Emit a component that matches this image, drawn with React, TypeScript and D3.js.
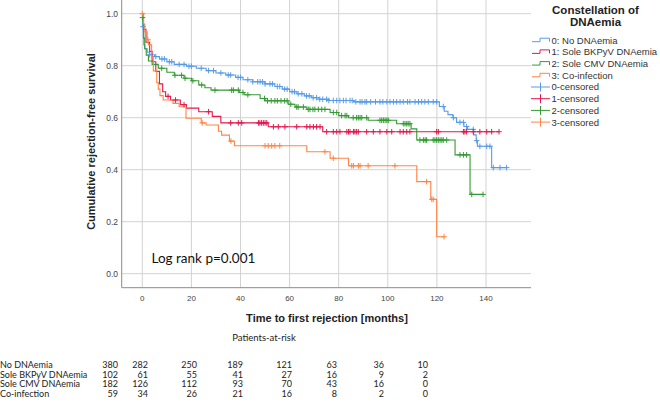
import React from 'react';
import * as d3 from 'd3';

// ---------- data ----------
const xTicks = [0, 20, 40, 60, 80, 100, 120, 140];
const yTicks = [0, 0.2, 0.4, 0.6, 0.8, 1.0];

const noTimes = [0, 0.2, 0.4, 0.6, 1, 2, 3, 5, 7, 10, 13, 18, 22, 26, 30, 34, 38, 41, 45, 50, 54, 57, 60, 63, 66, 69, 72, 76, 86, 121, 123, 124.5, 126.5, 128, 131, 132.5, 135, 136, 136.5, 142.3];
const noSurv = [1.0, 0.95, 0.91, 0.88, 0.865, 0.852, 0.842, 0.835, 0.826, 0.815, 0.805, 0.798, 0.79, 0.781, 0.772, 0.764, 0.755, 0.746, 0.738, 0.73, 0.72, 0.71, 0.7, 0.692, 0.684, 0.677, 0.671, 0.666, 0.661, 0.643, 0.625, 0.612, 0.6, 0.582, 0.566, 0.555, 0.534, 0.512, 0.49, 0.408];
const noEnd = 148.5;
const noCens = [0.3, 3, 5.5, 8, 9, 11, 12, 15, 17, 19, 20, 24, 27, 29, 32, 35, 36, 39, 40, 43, 45, 47, 48, 49, 50, 52, 53, 55, 56, 58, 59, 61, 62, 63.5, 65, 66.9, 68, 69.6, 71, 72.3, 73.5, 75.1, 76, 77.8, 79.2, 80.5, 81.9, 83, 84.6, 85.5, 87, 88.7, 89.5, 90.7, 91.4, 93, 95, 96.8, 98, 99.6, 100.9, 102.3, 103.6, 105, 106.3, 108, 109, 111.1, 112.5, 113.8, 115.1, 116.5, 118.5, 119.9, 122.6, 126.7, 129.4, 130.8, 132.1, 134.8, 136.2, 137.5, 140.3, 141.6, 143, 145.7, 148.4];

const bkTimes = [0, 0.5, 1.5, 3, 4, 5.5, 7, 8.3, 9.5, 11.5, 15.5, 18, 23, 28.5, 32, 51.3, 73.5];
const bkSurv = [1.0, 0.94, 0.89, 0.855, 0.815, 0.778, 0.73, 0.7, 0.682, 0.668, 0.65, 0.637, 0.623, 0.605, 0.58, 0.565, 0.546];
const bkEnd = 145.3;
const bkCens = [10.5, 13.5, 17, 27, 36, 39.1, 40.5, 47.3, 47.9, 48.6, 49.3, 50, 50.7, 53.4, 55.4, 58.1, 62.9, 67, 68.3, 69.7, 71, 72.4, 75.1, 77.8, 79.2, 80.5, 83.3, 84, 84.6, 86, 86.6, 87.3, 88, 91.4, 94.1, 96.8, 99.6, 101.6, 105, 106.3, 107.7, 109, 119.9, 120.6, 130.8, 131.4, 132.1, 134.8, 137.5, 140.3, 142.3, 145.3];

const cmvTimes = [0, 0.1, 0.3, 0.6, 1, 1.6, 2.5, 4, 6.5, 10, 13, 17, 20, 23, 25.5, 28, 39.5, 41.5, 48, 50, 59.4, 62.2, 67, 76.5, 80, 84, 92, 103.6, 109.5, 111.8, 127.4, 133.5];
const cmvSurv = [1.0, 0.985, 0.95, 0.905, 0.865, 0.84, 0.818, 0.805, 0.79, 0.775, 0.763, 0.752, 0.742, 0.726, 0.715, 0.706, 0.697, 0.688, 0.674, 0.665, 0.652, 0.641, 0.632, 0.62, 0.608, 0.6, 0.59, 0.577, 0.557, 0.514, 0.457, 0.305];
const cmvEnd = 138.8;
const cmvCens = [0.1, 7.9, 13.3, 16, 17.4, 20.6, 24.2, 29.6, 36.4, 37.1, 39.1, 41, 43, 49.8, 51, 52.5, 54, 55, 56.5, 58, 59, 60.5, 62.9, 63.5, 65.6, 67.6, 68.3, 69.5, 70.3, 71.7, 73.1, 74.4, 77.8, 79.2, 81.2, 82.6, 83.3, 85.9, 87.3, 88, 88.7, 89.4, 91.4, 96.8, 97.5, 98.2, 98.9, 99.6, 100.2, 106.3, 107, 107.7, 108.3, 109, 113.1, 114.5, 115.2, 115.8, 118.5, 119.2, 119.9, 120.6, 121.3, 122, 122.6, 124, 129.4, 130.8, 132.1, 134.2, 138.8];

const coTimes = [0, 0.5, 1, 2, 2.5, 3.8, 4.5, 5.9, 6.5, 7.2, 8.5, 12.5, 15, 17.8, 24, 26, 31, 32.3, 35.5, 37.5, 67, 76.5, 84, 111.8, 117.5, 119.9];
const coSurv = [1.0, 0.96, 0.93, 0.9, 0.88, 0.83, 0.78, 0.735, 0.71, 0.685, 0.668, 0.655, 0.642, 0.598, 0.58, 0.572, 0.548, 0.533, 0.51, 0.492, 0.469, 0.444, 0.415, 0.354, 0.286, 0.142];
const coEnd = 123;
const coCens = [0, 2.3, 24.4, 36.1, 50, 51.3, 52.7, 54, 56, 74.4, 77.8, 85.3, 86, 88, 88.7, 92, 102.9, 115.8, 117.9, 118.5, 122.9];

const legendLines = ['0: No DNAemia', '1: Sole BKPyV DNAemia', '2: Sole CMV DNAemia', '3: Co-infection'];
const legendCens = ['0-censored', '1-censored', '2-censored', '3-censored'];
const colors = ['#5a9be6', '#e3184c', '#349a34', '#ff8447'];

const riskLabels = ['No DNAemia', 'Sole BKPyV DNAemia', 'Sole CMV DNAemia', 'Co-infection'];
const riskNo = [380, 282, 250, 189, 121, 63, 36, 10];
const riskBK = [102, 61, 55, 41, 27, 16, 9, 2];
const riskCMV = [182, 126, 112, 93, 70, 43, 16, 0];
const riskCo = [59, 34, 26, 21, 16, 8, 2, 0];

// ---------- layout ----------
const riskColRight = [118, 148, 197, 243, 292, 337, 384, 428];
const riskRowY = [367.5, 377.5, 387.3, 397];

const series = [
  { times: noTimes, surv: noSurv, end: noEnd, cens: noCens },
  { times: bkTimes, surv: bkSurv, end: bkEnd, cens: bkCens },
  { times: cmvTimes, surv: cmvSurv, end: cmvEnd, cens: cmvCens },
  { times: coTimes, surv: coSurv, end: coEnd, cens: coCens },
];

function survAt(times: number[], surv: number[], t: number) {
  let v = surv[0];
  for (let i = 0; i < times.length; i++) if (times[i] <= t) v = surv[i];
  return v;
}

export default function App() {
  const x = d3.scaleLinear().domain([0, 140]).range([142.3, 486]);
  const y = d3.scaleLinear().domain([0, 1]).range([273.7, 13.7]);
  const plotLeft = 121.7, plotRight = 531, plotTop = 0, plotBottom = 287.7;
  const line = d3.line<[number, number]>().x(d => x(d[0])).y(d => y(d[1])).curve(d3.curveStepAfter);
  const arial = "'Liberation Sans', Arial, sans-serif";
  const cal = "Lato, 'Open Sans', sans-serif";
  const riskRows = [riskNo, riskBK, riskCMV, riskCo];
  const cs = 2.8;

  return (
    <svg width={660} height={410} style={{ position: 'absolute', left: 0, top: 0, display: 'block', background: '#fff' }}>
      <rect x={0} y={0} width={660} height={410} fill="#fff" />
      {/* grid */}
      {xTicks.map(t => (
        <line key={'gx' + t} x1={x(t)} x2={x(t)} y1={plotTop} y2={plotBottom} stroke="#d2d2d2" strokeWidth={1} />
      ))}
      {yTicks.map(t => (
        <line key={'gy' + t} x1={plotLeft} x2={plotRight} y1={y(t)} y2={y(t)} stroke="#d2d2d2" strokeWidth={1} />
      ))}
      <line x1={plotLeft} x2={plotLeft} y1={plotTop} y2={plotBottom} stroke="#8a8a8a" strokeWidth={1} />
      <line x1={plotLeft} x2={plotRight} y1={plotBottom} y2={plotBottom} stroke="#8a8a8a" strokeWidth={1} />
      {/* tick labels */}
      {yTicks.map(t => (
        <text key={'ty' + t} x={118} y={y(t) + 3} textAnchor="end" fontFamily={arial} fontSize={8.5} fill="#444">{t.toFixed(1)}</text>
      ))}
      {xTicks.map(t => (
        <text key={'tx' + t} x={x(t)} y={301} textAnchor="middle" fontFamily={arial} fontSize={8} fill="#444">{t}</text>
      ))}
      {/* curves */}
      {series.map((s, i) => {
        const pts: [number, number][] = s.times.map((t, j) => [t, s.surv[j]] as [number, number]);
        pts.push([s.end, s.surv[s.surv.length - 1]]);
        return <path key={'c' + i} d={line(pts) || ''} fill="none" stroke={colors[i]} strokeWidth={1.1} />;
      })}
      {series.map((s, i) => (
        <g key={'cs' + i} stroke={colors[i]} strokeWidth={1}>
          {s.cens.map((t, j) => {
            const cx = x(t), cy = y(survAt(s.times, s.surv, t));
            return <path key={j} d={`M${cx - cs},${cy}H${cx + cs}M${cx},${cy - cs}V${cy + cs}`} />;
          })}
        </g>
      ))}
      {/* axis titles */}
      <text transform="translate(94.5,141.5) rotate(-90)" textAnchor="middle" fontFamily={arial} fontWeight="bold" fontSize={11} fill="#222">Cumulative rejection-free survival</text>
      <text x={327} y={322} textAnchor="middle" fontFamily={arial} fontWeight="bold" fontSize={11} fill="#222">Time to first rejection [months]</text>
      <text x={151.5} y={263} fontFamily={cal} fontSize={13.5} fill="#111">Log rank p=0.001</text>
      {/* legend */}
      <text x={595.5} y={14} textAnchor="middle" fontFamily={arial} fontWeight="bold" fontSize={11.5} fill="#222">Constellation of</text>
      <text x={595.5} y={26} textAnchor="middle" fontFamily={arial} fontWeight="bold" fontSize={11.5} fill="#222">DNAemia</text>
      {legendLines.map((l, i) => {
        const ly = 40.2 + i * 11.7;
        return (
          <g key={'ll' + i}>
            <path d={`M532,${ly + 1.5}H540V${ly - 2}H549.5V${ly + 1.5}`} fill="none" stroke={colors[i]} strokeWidth={1} />
            <text x={551.5} y={ly + 3.4} fontFamily={arial} fontSize={9.5} fill="#333">{l}</text>
          </g>
        );
      })}
      {legendCens.map((l, i) => {
        const ly = 40.2 + (i + 4) * 11.7;
        return (
          <g key={'lc' + i}>
            <path d={`M531,${ly}H550M540.5,${ly - 4.5}V${ly + 4.5}`} fill="none" stroke={colors[i]} strokeWidth={1} />
            <text x={551.5} y={ly + 3.4} fontFamily={arial} fontSize={9.5} fill="#333">{l}</text>
          </g>
        );
      })}
      {/* at-risk table */}
      <text x={264} y={341} textAnchor="middle" fontFamily={cal} fontSize={9.5} fill="#222">Patients-at-risk</text>
      {riskLabels.map((l, i) => (
        <g key={'rr' + i}>
          <text x={0} y={riskRowY[i]} fontFamily={cal} fontSize={9} fill="#222">{l}</text>
          {riskRows[i].map((v, j) => (
            <text key={j} x={riskColRight[j]} y={riskRowY[i]} textAnchor="end" fontFamily={cal} fontSize={9} fill="#222">{v}</text>
          ))}
        </g>
      ))}
    </svg>
  );
}
